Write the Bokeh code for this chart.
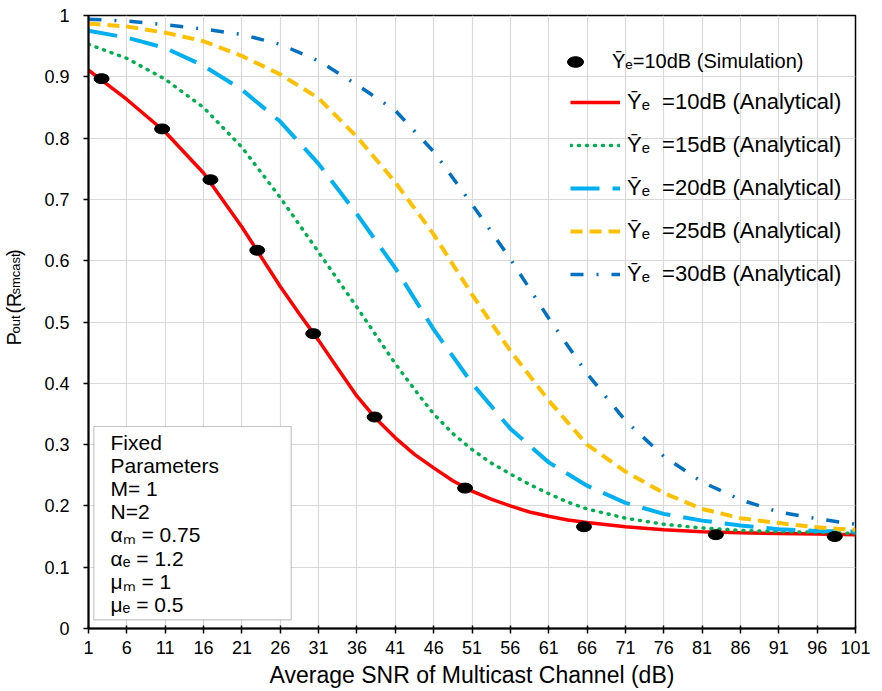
import math
from bokeh.plotting import figure
from bokeh.layouts import row
from bokeh.models import FixedTicker, Legend, LegendItem, Label, BoxAnnotation, Range1d
from bokeh.embed import file_html
from bokeh.resources import INLINE

# ---------------- data ----------------
snr_db = [1, 6, 11, 16, 21, 26, 31, 36, 41, 46, 51, 56, 61, 66, 71, 76, 81, 86, 91, 96, 101]

snr_db_10 = [1, 6, 11, 16, 21, 26, 28.5, 31, 33.5, 36, 38.5, 41, 43.5, 46, 48.5, 51, 53.5,
             56, 58.5, 61, 63.5, 66, 71, 76, 81, 86, 91, 96, 101]
pout_10db = [0.911, 0.863, 0.810, 0.743, 0.655, 0.558, 0.513, 0.470, 0.424, 0.379, 0.342,
             0.311, 0.284, 0.262, 0.241, 0.224, 0.211, 0.200, 0.190, 0.183, 0.177, 0.173,
             0.166, 0.161, 0.158, 0.156, 0.155, 0.154, 0.153]

snr_db_15 = [1, 6, 11, 16, 21, 26, 31, 36, 41, 43.5, 46, 48.5, 51, 53.5, 56, 58.5, 61, 63.5,
             66, 71, 76, 81, 86, 91, 96, 101]
pout_15db = [0.953, 0.930, 0.896, 0.850, 0.785, 0.703, 0.614, 0.524, 0.432, 0.390, 0.350,
             0.318, 0.292, 0.270, 0.252, 0.235, 0.220, 0.206, 0.195, 0.180, 0.170, 0.164,
             0.160, 0.158, 0.157, 0.155]

pout_20db = [0.975, 0.964, 0.947, 0.918, 0.879, 0.827, 0.758, 0.676, 0.588, 0.488, 0.400,
             0.326, 0.271, 0.233, 0.205, 0.187, 0.176, 0.168, 0.162, 0.159, 0.158]
pout_25db = [0.987, 0.982, 0.972, 0.958, 0.934, 0.904, 0.865, 0.802, 0.728, 0.643, 0.545,
             0.453, 0.372, 0.300, 0.256, 0.221, 0.195, 0.180, 0.172, 0.165, 0.161]
pout_30db = [0.994, 0.991, 0.985, 0.978, 0.969, 0.953, 0.926, 0.887, 0.845, 0.778, 0.692,
             0.603, 0.506, 0.416, 0.339, 0.281, 0.239, 0.210, 0.190, 0.179, 0.170]

sim_snr_db = [2.7, 10.6, 16.9, 23.0, 30.3, 38.3, 50.1, 65.6, 82.8, 98.3]
sim_pout_10db = [0.897, 0.815, 0.732, 0.617, 0.481, 0.345, 0.229, 0.166, 0.153, 0.150]

x_ticks = [1, 6, 11, 16, 21, 26, 31, 36, 41, 46, 51, 56, 61, 66, 71, 76, 81, 86, 91, 96, 101]
y_ticks = [0, 0.1, 0.2, 0.3, 0.4, 0.5, 0.6, 0.7, 0.8, 0.9, 1]
y_tick_labels = ["0", "0.1", "0.2", "0.3", "0.4", "0.5", "0.6", "0.7", "0.8", "0.9", "1"]

legend_labels = ["Ȳₑ=10dB (Simulation)",
                 "Ȳₑ\u00a0\u00a0=10dB (Analytical)",
                 "Ȳₑ\u00a0\u00a0=15dB (Analytical)",
                 "Ȳₑ\u00a0\u00a0=20dB (Analytical)",
                 "Ȳₑ\u00a0\u00a0=25dB (Analytical)",
                 "Ȳₑ\u00a0\u00a0=30dB (Analytical)"]

param_lines = ["Fixed", "Parameters", "M= 1", "N=2",
               "αₘ = 0.75", "αₑ = 1.2", "μₘ = 1", "μₑ = 0.5"]

x_title = "Average SNR of Multicast Channel (dB)"
y_title_parts = ["P", "out", "(", "R", "smcast", ")"]

FONT = "Liberation Sans"

# ---------------- layout geometry ----------------
W, H = 882, 691
TW = 40                      # width of the strip holding the rotated y title
BL, BR, BT, BB = 88 - TW, 27, 15, 63
FL, FR, FT, FB = 88, W - BR, BT, H - BB   # frame edges in page pixels

def dx(px):
    return 1 + (px - FL) * 100.0 / (FR - FL)

def dy(py):
    return (FB - py) / float(FB - FT)

# ---------------- main figure ----------------
p = figure(width=W - TW, height=H, output_backend="svg", toolbar_location=None,
           x_range=Range1d(1, 101), y_range=Range1d(0, 1),
           min_border_left=BL, min_border_right=BR, min_border_top=BT, min_border_bottom=BB,
           background_fill_color="white", border_fill_color="white")

p.outline_line_color = "black"
p.outline_line_width = 1.5

p.xgrid.ticker = FixedTicker(ticks=x_ticks)
p.ygrid.ticker = FixedTicker(ticks=y_ticks)
p.xgrid.grid_line_color = "#D9D9D9"
p.ygrid.grid_line_color = "#D9D9D9"
p.xgrid.grid_line_width = 1.2
p.ygrid.grid_line_width = 1.2

p.xaxis.ticker = FixedTicker(ticks=x_ticks)
p.yaxis.ticker = FixedTicker(ticks=y_ticks)
p.yaxis.major_label_overrides = dict(zip(y_ticks, y_tick_labels))
for ax in (p.xaxis, p.yaxis):
    ax.axis_line_color = "black"
    ax.axis_line_width = 2
    ax.major_tick_line_color = "black"
    ax.major_tick_line_width = 1.5
    ax.minor_tick_line_color = None
    ax.major_label_text_font = FONT
    ax.major_label_text_font_size = "18px"
    ax.major_label_text_color = "black"
p.xaxis.major_tick_out = 5
p.xaxis.major_tick_in = 3
p.yaxis.major_tick_out = 5
p.yaxis.major_tick_in = 0
p.yaxis.major_label_standoff = 14
p.xaxis.major_label_standoff = 7
p.xaxis.axis_label = x_title
p.xaxis.axis_label_text_font = FONT
p.xaxis.axis_label_text_font_size = "23px"
p.xaxis.axis_label_text_font_style = "normal"
p.xaxis.axis_label_text_color = "black"
p.xaxis.axis_label_standoff = 5

# ---------------- series ----------------
r10 = p.line(snr_db_10, pout_10db, line_color="#FF0000", line_width=3.5)
r15 = p.line(snr_db_15, pout_15db, line_color="#00B050", line_width=3.5,
             line_dash="1 7", line_cap="round")
r20 = p.line(snr_db, pout_20db, line_color="#00B0F0", line_width=4, line_dash="29 13")
r25 = p.line(snr_db, pout_25db, line_color="#FFC000", line_width=4, line_dash="12 7")
r30 = p.line(snr_db, pout_30db, line_color="#0070C0", line_width=3.5, line_dash="13 13 2 13")
rsim = p.ellipse(x=sim_snr_db, y=sim_pout_10db, width=15, height=10,
                 width_units="screen", height_units="screen",
                 fill_color="black", line_color="black")

common = dict(padding=0, margin=0, border_line_alpha=0, background_fill_alpha=0,
              label_text_font=FONT, label_text_color="black")

leg_sim = Legend(items=[LegendItem(label=legend_labels[0], renderers=[rsim])],
                 location=(565 - FL, FB - 74),
                 glyph_width=20, glyph_height=25, label_height=25,
                 label_standoff=27, label_text_font_size="20px", **common)
p.add_layout(leg_sim, "center")

leg_an = Legend(items=[LegendItem(label=lab, renderers=[r]) for lab, r in
                       zip(legend_labels[1:], [r10, r15, r20, r25, r30])],
                location=(570 - FL, FB - 287),
                glyph_width=50, glyph_height=26, label_height=26, spacing=17,
                label_standoff=7, label_text_font_size="22px", **common)
p.add_layout(leg_an, "center")

# ---------------- fixed-parameter box ----------------
p.add_layout(BoxAnnotation(left=dx(93.3), right=dx(290.7), top=dy(426), bottom=dy(619.3),
                           fill_color="white", fill_alpha=1.0,
                           line_color="#404040", line_width=1.2))
for i, txt in enumerate(param_lines):
    p.add_layout(Label(x=dx(110), y=dy(442 + 23.1 * i), text=txt,
                       text_font=FONT, text_font_size="21px", text_color="black",
                       text_align="left", text_baseline="alphabetic"))

# ---------------- y title strip (rotated text with subscripts) ----------------
t = figure(width=TW, height=H, output_backend="svg", toolbar_location=None,
           x_range=Range1d(0, TW), y_range=Range1d(H, 0),
           min_border=0, min_border_left=0, min_border_right=0,
           min_border_top=0, min_border_bottom=0,
           x_axis_location=None, y_axis_location=None,
           background_fill_color="white", border_fill_color="white")
t.outline_line_color = None
t.grid.visible = False
# (start y in page px, font px, baseline x in page px) for each title piece
y_title_geom = [(372, 20, 13), (358.5, 13, 14.5), (336, 20, 13),
                (329, 20, 13), (314.5, 13, 14.5), (271, 20, 13)]
for txt, (py, fs, px) in zip(y_title_parts, y_title_geom):
    t.add_layout(Label(x=px, y=py, text=txt, angle=math.pi / 2,
                       text_font=FONT, text_font_size="%dpx" % fs, text_color="black",
                       text_align="left", text_baseline="alphabetic"))

layout = row(t, p, spacing=0)
open("out.html", "w").write(file_html(layout, INLINE))
